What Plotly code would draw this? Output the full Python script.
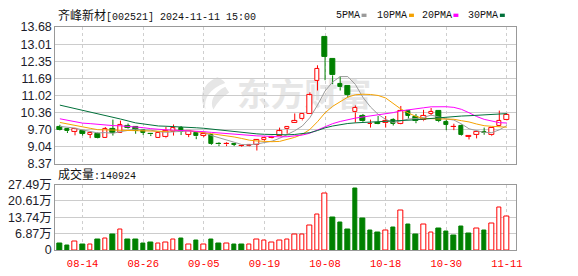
import base64
import plotly.graph_objects as go

# ---------------- data ----------------
stock_name = "齐峰新材"
stock_code = "002521"
timestamp = "2024-11-11 15:00"

dates = ["08-09", "08-12", "08-13", "08-14", "08-15", "08-16", "08-19", "08-20", "08-21", "08-22",
         "08-23", "08-26", "08-27", "08-28", "08-29", "08-30", "09-02", "09-03", "09-04", "09-05",
         "09-06", "09-09", "09-10", "09-11", "09-12", "09-13", "09-18", "09-19", "09-20", "09-23",
         "09-24", "09-25", "09-26", "09-27", "09-30", "10-08", "10-09", "10-10", "10-11", "10-14",
         "10-15", "10-16", "10-17", "10-18", "10-21", "10-22", "10-23", "10-24", "10-25", "10-28",
         "10-29", "10-30", "10-31", "11-01", "11-04", "11-05", "11-06", "11-07", "11-08", "11-11"]

opens = [9.78, 9.70, 9.61, 9.64, 9.49, 9.54, 9.38, 9.71, 9.58, 9.85,
         9.80, 9.66, 9.52, 9.38, 9.39, 9.59, 9.76, 9.50, 9.55, 9.45,
         9.47, 9.14, 9.12, 9.12, 9.05, 9.05, 9.10, 9.28, 9.37, 9.46,
         9.70, 9.94, 10.09, 10.32, 11.59, 13.30, 12.44, 11.45, 11.39, 10.36,
         10.24, 9.92, 9.95, 9.94, 10.07, 9.92, 10.41, 10.20, 10.05, 10.30,
         10.41, 10.00, 9.79, 9.82, 9.42, 9.48, 9.62, 9.47, 9.85, 10.07]
highs = [9.88, 9.75, 9.72, 9.68, 9.58, 9.58, 9.79, 10.08, 10.04, 9.93,
         9.82, 9.70, 9.56, 9.59, 9.80, 9.89, 9.83, 9.66, 9.57, 9.53,
         9.50, 9.20, 9.20, 9.17, 9.10, 9.09, 9.32, 9.40, 9.45, 9.77,
         9.80, 10.32, 10.33, 11.14, 12.19, 13.30, 12.44, 11.76, 11.40, 10.63,
         10.30, 10.08, 10.22, 10.22, 10.13, 10.61, 10.42, 10.30, 10.46, 10.53,
         10.43, 10.07, 9.92, 9.89, 9.44, 9.60, 9.77, 9.78, 10.43, 10.32]
lows = [9.66, 9.56, 9.47, 9.46, 9.36, 9.35, 9.37, 9.46, 9.57, 9.73,
        9.53, 9.48, 9.44, 9.37, 9.36, 9.46, 9.48, 9.40, 9.32, 9.40,
        9.10, 9.05, 9.05, 9.05, 9.02, 9.04, 8.88, 9.25, 9.35, 9.44,
        9.53, 9.94, 10.05, 10.32, 11.21, 11.61, 11.46, 11.21, 10.94, 9.96,
        9.99, 9.77, 9.90, 9.77, 9.85, 9.90, 10.12, 9.94, 10.02, 10.24,
        9.98, 9.67, 9.67, 9.46, 9.31, 9.35, 9.49, 9.44, 9.84, 10.05]
closes = [9.69, 9.63, 9.70, 9.54, 9.56, 9.38, 9.70, 9.56, 9.86, 9.77,
          9.65, 9.56, 9.51, 9.57, 9.65, 9.74, 9.60, 9.63, 9.43, 9.52,
          9.13, 9.12, 9.14, 9.10, 9.07, 9.08, 9.28, 9.38, 9.40, 9.63,
          9.79, 10.04, 10.30, 11.02, 12.06, 12.53, 11.80, 11.34, 11.03, 10.53,
          10.02, 9.93, 9.92, 10.04, 9.91, 10.41, 10.23, 10.02, 10.24, 10.38,
          10.02, 9.87, 9.81, 9.49, 9.43, 9.60, 9.58, 9.77, 10.03, 10.26]
# closes of the 29 sessions before the visible window (estimated from the MA lines)
prior_closes = [11.58, 11.65, 11.49, 11.51, 11.33, 11.65, 11.81, 12.11, 12.02, 11.90,
                10.76, 10.71, 10.77, 9.95, 10.04, 9.90, 10.23, 10.03, 10.12, 10.03,
                10.26, 10.28, 10.24, 9.91, 9.92, 9.78, 9.88, 9.90, 9.83]
volumes = [26000, 18000, 37000, 22000, 25000, 46000, 50000, 66000, 85000, 42000,
           42000, 26000, 30000, 26000, 30000, 46000, 50000, 25000, 38000, 22000,
           46000, 26000, 29000, 22000, 22000, 25000, 46000, 38000, 30000, 38000,
           46000, 66000, 66000, 102000, 149000, 238000, 138000, 115000, 87000, 258000,
           134000, 82000, 74000, 82000, 94000, 166000, 106000, 66000, 105000, 73000,
           90000, 78000, 62000, 98000, 70000, 89000, 82000, 110000, 178000, 140924]

price_ticks = [8.37, 9.04, 9.70, 10.36, 11.02, 11.69, 12.35, 13.01, 13.68]
vol_ticks = [0, 68700, 137400, 206100, 274900]
vol_tick_text = ["0", "6.87万", "13.74万", "20.61万", "27.49万"]
date_ticks = ["08-14", "08-26", "09-05", "09-19", "10-08", "10-18", "10-30", "11-11"]
ma_periods = [5, 10, 20, 30]
ma_names = ["5PMA", "10PMA", "20PMA", "30PMA"]
ma_colors = ["#9a9a9a", "#f5a200", "#ff00ff", "#00703a"]

UP = "#ff0000"
DOWN = "#008000"

# ---------------- derived ----------------
all_closes = prior_closes + closes
off = len(prior_closes)


def moving_average(n):
    out = []
    for i in range(len(closes)):
        seg = all_closes[off + i - n + 1: off + i + 1]
        out.append(sum(seg) / n)
    return out


up = [c >= o for o, c in zip(opens, closes)]
body_base = [min(o, c) for o, c in zip(opens, closes)]
body_h = [max(abs(c - o), 0.004) for o, c in zip(opens, closes)]
body_fill = ["white" if u else DOWN for u in up]
body_line = [UP if u else DOWN for u in up]

prev_close = [prior_closes[-1]] + closes[:-1]
vol_up = [c >= p for c, p in zip(closes, prev_close)]
vol_fill = ["white" if u else DOWN for u in vol_up]
vol_line = [UP if u else DOWN for u in vol_up]


def wick_segments(sel):
    xs, ys = [], []
    for d, o, h, l, c, u in zip(dates, opens, highs, lows, closes, up):
        if u != sel:
            continue
        lo_b, hi_b = min(o, c), max(o, c)
        xs += [d, d, None, d, d, None]
        ys += [l, lo_b, None, hi_b, h, None]
    return xs, ys


fig = go.Figure()

for sel, col in [(True, UP), (False, DOWN)]:
    wx, wy = wick_segments(sel)
    fig.add_trace(go.Scatter(x=wx, y=wy, mode="lines", line=dict(color=col, width=1),
                             hoverinfo="skip", showlegend=False, xaxis="x", yaxis="y"))

fig.add_trace(go.Bar(x=dates, y=body_h, base=body_base, width=0.6,
                     marker=dict(color=body_fill, line=dict(color=body_line, width=1)),
                     showlegend=False, xaxis="x", yaxis="y"))

for n, col in zip(ma_periods, ma_colors):
    fig.add_trace(go.Scatter(x=dates, y=moving_average(n), mode="lines",
                             line=dict(color=col, width=1), showlegend=False,
                             hoverinfo="skip", xaxis="x", yaxis="y"))

fig.add_trace(go.Bar(x=dates, y=volumes, width=0.6,
                     marker=dict(color=vol_fill, line=dict(color=vol_line, width=1)),
                     showlegend=False, xaxis="x2", yaxis="y2"))

W, H = 578, 276
XL, XR = 56, 522
P_TOP, P_BOT = 21, 165
V_TOP, V_BOT = 187, 256


def px(x):
    return x / W


def py(y):
    return 1 - y / H


tickfont = dict(family="Liberation Sans, Noto Sans CJK SC", size=12.5, color="#1c1c2a")
xrange = [-0.6, len(dates) + 0.16]

common_x = dict(domain=[px(XL), px(XR)], type="category", categoryorder="array",
                categoryarray=dates, range=xrange, tickmode="array", tickvals=date_ticks,
                ticks="", showgrid=True, gridcolor="#cfcfcf", griddash="3px,3px", gridwidth=1,
                showline=True, linecolor="#999999", mirror=True, zeroline=False)

fig.update_layout(
    width=W, height=H, margin=dict(l=0, r=0, t=0, b=0),
    paper_bgcolor="white", plot_bgcolor="rgba(0,0,0,0)",
    barmode="overlay", bargap=0,
    xaxis=dict(common_x, anchor="y", showticklabels=False),
    yaxis=dict(domain=[py(P_BOT), py(P_TOP)], anchor="x", range=[price_ticks[0], price_ticks[-1]],
               tickmode="array", tickvals=price_ticks, ticktext=[f"{v:.2f}" for v in price_ticks],
               tickfont=tickfont, ticks="", showgrid=True, gridcolor="#cccccc",
               showline=True, linecolor="#999999", mirror=True, zeroline=False),
    xaxis2=dict(common_x, anchor="y2", matches="x", ticklabelstandoff=3,
                tickfont=dict(family="Liberation Mono", size=10.5, color="#ff0000")),
    yaxis2=dict(domain=[py(V_BOT), py(V_TOP)], anchor="x2", range=[0, vol_ticks[-1]],
                tickmode="array", tickvals=vol_ticks, ticktext=vol_tick_text,
                tickfont=tickfont, ticks="", showgrid=True, gridcolor="#cccccc",
                showline=True, linecolor="#999999", mirror=True, zeroline=False),
)

mono = dict(family="Liberation Mono, Noto Sans CJK SC", size=10, color="#111111")
fig.add_annotation(xref="paper", yref="paper", x=px(57), y=py(9), xanchor="left", yanchor="middle",
                   showarrow=False, font=mono,
                   text=f"<span style='font-size:12px'>{stock_name}</span>[{stock_code}] {timestamp}")
fig.add_annotation(xref="paper", yref="paper", x=px(57), y=py(177.5), xanchor="left", yanchor="middle",
                   showarrow=False, font=mono,
                   text=f"<span style='font-size:12px'>成交量</span>:{volumes[-1]}")

legend_x = [338, 380, 425, 472]
for name, col, lx in zip(ma_names, ma_colors, legend_x):
    fig.add_annotation(xref="paper", yref="paper", x=px(lx), y=py(9), xanchor="left", yanchor="middle",
                       showarrow=False, font=mono, text=name)
    sx = lx + len(name) * 6 + 4
    fig.add_shape(type="rect", xref="paper", yref="paper", x0=px(sx), x1=px(sx + 5),
                  y0=py(10.5), y1=py(7), fillcolor=col, line=dict(width=0))

# watermark (below the traces)
svg = ("<svg xmlns='http://www.w3.org/2000/svg' width='182' height='38' viewBox='0 0 182 38'>"
       "<path d='M22 2 C8 8 2 22 10 36 C8 24 14 14 30 8 C28 5 25 3 22 2 Z' fill='#e6e6e6'/>"
       "<path d='M30 12 C18 18 14 28 18 36 C22 28 28 22 34 18 Z' fill='#e6e6e6'/>"
       "<text x='42' y='32' font-family='Noto Sans CJK SC' font-weight='bold' font-size='34' "
       "fill='#e6e6e6'>东方财富</text></svg>")
uri = "data:image/svg+xml;base64," + base64.b64encode(svg.encode("utf-8")).decode("ascii")
fig.add_layout_image(source=uri, xref="paper", yref="paper", x=px(198), y=py(72),
                     sizex=px(182), sizey=38 / H, xanchor="left", yanchor="top",
                     sizing="stretch", layer="below")

fig.write_html("out.html")
